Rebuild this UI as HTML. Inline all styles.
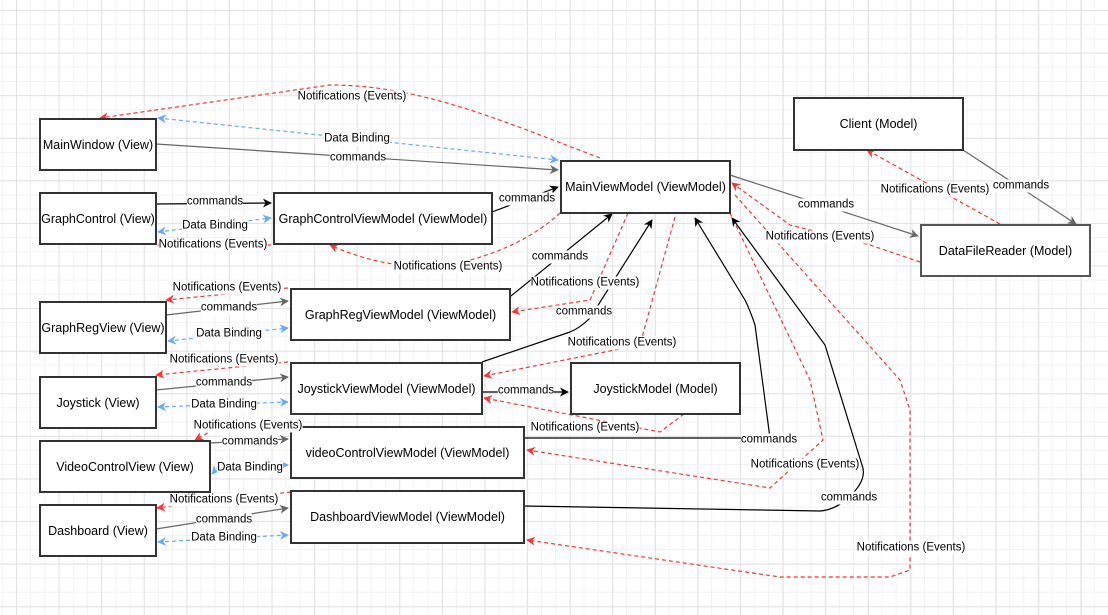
<!DOCTYPE html>
<html><head><meta charset="utf-8"><style>
html,body{margin:0;padding:0;}
body{width:1108px;height:615px;position:relative;overflow:hidden;background:#fff;
background-image:linear-gradient(#e2e2e2 1px,transparent 1px),linear-gradient(90deg,#e2e2e2 1px,transparent 1px),linear-gradient(#f2f2f2 1px,transparent 1px),linear-gradient(90deg,#f2f2f2 1px,transparent 1px);
background-size:42.6px 42.6px,42.6px 42.6px,14.2px 14.2px,14.2px 14.2px;background-position:16px 10px,16px 10px,16px 10px,16px 10px;
font-family:"Liberation Sans",Arial,sans-serif;}
svg{position:absolute;left:0;top:0;}
.b{position:absolute;background:#fff;border:2px solid #333;box-sizing:border-box;display:flex;align-items:center;justify-content:center;font-size:12.5px;color:#000;white-space:nowrap;}
.l{position:absolute;background:#fff;font-size:11.5px;line-height:13px;white-space:nowrap;transform:translate(-50%,-50%);color:#000;}
</style></head><body>
<svg width="1108" height="615" viewBox="0 0 1108 615">
<defs>
<marker id="k" viewBox="0 0 10 10" refX="9" refY="5" markerWidth="9" markerHeight="9" orient="auto-start-reverse" markerUnits="userSpaceOnUse"><path d="M0,0 L10,5 L0,10 L3,5z" fill="#000"/></marker>
<marker id="g" viewBox="0 0 10 10" refX="9" refY="5" markerWidth="9" markerHeight="9" orient="auto-start-reverse" markerUnits="userSpaceOnUse"><path d="M0,0 L10,5 L0,10 L3,5z" fill="#666"/></marker>
<marker id="r" viewBox="0 0 10 10" refX="9" refY="5" markerWidth="9" markerHeight="9" orient="auto-start-reverse" markerUnits="userSpaceOnUse"><path d="M0,0 L10,5 L0,10 L3,5z" fill="#ff3333"/></marker>
<marker id="u" viewBox="0 0 10 10" refX="9" refY="5" markerWidth="9" markerHeight="9" orient="auto-start-reverse" markerUnits="userSpaceOnUse"><path d="M0,0 L10,5 L0,10 L3,5z" fill="#66aaff"/></marker>
</defs>
<g fill="none" stroke-width="1.2">
<g stroke="#ff3333" stroke-dasharray="4 3" marker-end="url(#r)">
<path d="M600,158 C500,120 420,85 330,85 L100,118"/>
<path d="M271,245 L158,245"/>
<path d="M560,213 Q520,250 450,265 Q390,272 330,245"/>
<path d="M628,213 L590,300 L512,312"/>
<path d="M675,217 L640,345 L484,376"/>
<path d="M684,414 L660,432 L484,398"/>
<path d="M730,213 L810,380 L823,440 L770,488 L527,450"/>
<path d="M735,195 L900,380 L910,410 L910,570 L890,577 L780,577 L527,540"/>
<path d="M920,262 L870,245 L790,225 L732,183"/>
<path d="M1000,224 L867,150"/>
<path d="M288,288 L166,300"/>
<path d="M288,362 L156,375"/>
<path d="M220,426 L195,440"/>
<path d="M291,492 L157,508"/>
</g>
<g stroke="#66aaff" stroke-dasharray="4 3" marker-end="url(#u)" marker-start="url(#u)">
<path d="M158,118 L558,160"/>
<path d="M158,232 L271,218"/>
<path d="M168,341 L288,328"/>
<path d="M158,407 L288,402"/>
<path d="M212,474 L220,465 L288,465"/>
<path d="M158,542 L288,535"/>
</g>
<g stroke="#666" marker-end="url(#g)">
<path d="M156,144 L558,170"/>
<path d="M166,315 L288,301"/>
<path d="M156,390 L288,377"/>
<path d="M210,443 L288,439"/>
<path d="M156,529 L288,508"/>
<path d="M730,175 L918,236"/>
<path d="M963,150 L1076,224"/>
</g>
<g stroke="#000" marker-end="url(#k)">
<path d="M156,204 L271,203"/>
<path d="M492,212 L558,187"/>
<path d="M506,300 L612,214"/>
<path d="M482,362 L570,332 Q580,328 590,318 L652,220"/>
<path d="M482,392 L568,392"/>
<path d="M524,438 L770,438 L755,325 Q750,310 745,300 L695,218"/>
<path d="M524,506 L820,511 Q835,510 848,498 Q868,480 862,465 L825,345 L732,218"/>
</g>
</g>
</svg>
<div class="b" style="left:39px;top:118px;width:118px;height:53px">MainWindow (View)</div>
<div class="b" style="left:39px;top:192px;width:118px;height:53px">GraphControl (View)</div>
<div class="b" style="left:273px;top:192px;width:220px;height:53px">GraphControlViewModel (ViewModel)</div>
<div class="b" style="left:560px;top:160px;width:171px;height:54px">MainViewModel (ViewModel)</div>
<div class="b" style="left:793px;top:97px;width:171px;height:54px">Client (Model)</div>
<div class="b" style="left:920px;top:224px;width:171px;height:53px;border-color:#555">DataFileReader (Model)</div>
<div class="b" style="left:39px;top:301px;width:128px;height:53px">GraphRegView (View)</div>
<div class="b" style="left:290px;top:288px;width:221px;height:53px">GraphRegViewModel (ViewModel)</div>
<div class="b" style="left:39px;top:376px;width:118px;height:53px">Joystick (View)</div>
<div class="b" style="left:290px;top:362px;width:193px;height:53px">JoystickViewModel (ViewModel)</div>
<div class="b" style="left:570px;top:362px;width:171px;height:53px">JoystickModel (Model)</div>
<div class="b" style="left:39px;top:440px;width:172px;height:53px">VideoControlView (View)</div>
<div class="b" style="left:290px;top:426px;width:235px;height:53px">videoControlViewModel (ViewModel)</div>
<div class="b" style="left:39px;top:504px;width:118px;height:53px">Dashboard (View)</div>
<div class="b" style="left:290px;top:490px;width:235px;height:54px">DashboardViewModel (ViewModel)</div>

<div class="l" style="left:352px;top:97px">Notifications (Events)</div>
<div class="l" style="left:357px;top:139px">Data Binding</div>
<div class="l" style="left:358px;top:158px">commands</div>
<div class="l" style="left:215px;top:202px">commands</div>
<div class="l" style="left:215px;top:226px">Data Binding</div>
<div class="l" style="left:213px;top:245px">Notifications (Events)</div>
<div class="l" style="left:527px;top:199px">commands</div>
<div class="l" style="left:448px;top:267px">Notifications (Events)</div>
<div class="l" style="left:560px;top:257px">commands</div>
<div class="l" style="left:585px;top:283px">Notifications (Events)</div>
<div class="l" style="left:584px;top:312px">commands</div>
<div class="l" style="left:622px;top:343px">Notifications (Events)</div>
<div class="l" style="left:526px;top:391px">commands</div>
<div class="l" style="left:585px;top:428px">Notifications (Events)</div>
<div class="l" style="left:769px;top:440px">commands</div>
<div class="l" style="left:805px;top:465px">Notifications (Events)</div>
<div class="l" style="left:849px;top:498px">commands</div>
<div class="l" style="left:911px;top:548px">Notifications (Events)</div>
<div class="l" style="left:826px;top:205px">commands</div>
<div class="l" style="left:820px;top:237px">Notifications (Events)</div>
<div class="l" style="left:1021px;top:186px">commands</div>
<div class="l" style="left:935px;top:190px">Notifications (Events)</div>
<div class="l" style="left:227px;top:288px">Notifications (Events)</div>
<div class="l" style="left:229px;top:308px">commands</div>
<div class="l" style="left:229px;top:334px">Data Binding</div>
<div class="l" style="left:224px;top:360px">Notifications (Events)</div>
<div class="l" style="left:224px;top:383px">commands</div>
<div class="l" style="left:224px;top:405px">Data Binding</div>
<div class="l" style="left:248px;top:426px">Notifications (Events)</div>
<div class="l" style="left:250px;top:442px">commands</div>
<div class="l" style="left:250px;top:468px">Data Binding</div>
<div class="l" style="left:224px;top:500px">Notifications (Events)</div>
<div class="l" style="left:224px;top:520px">commands</div>
<div class="l" style="left:224px;top:538px">Data Binding</div>
</body></html>
